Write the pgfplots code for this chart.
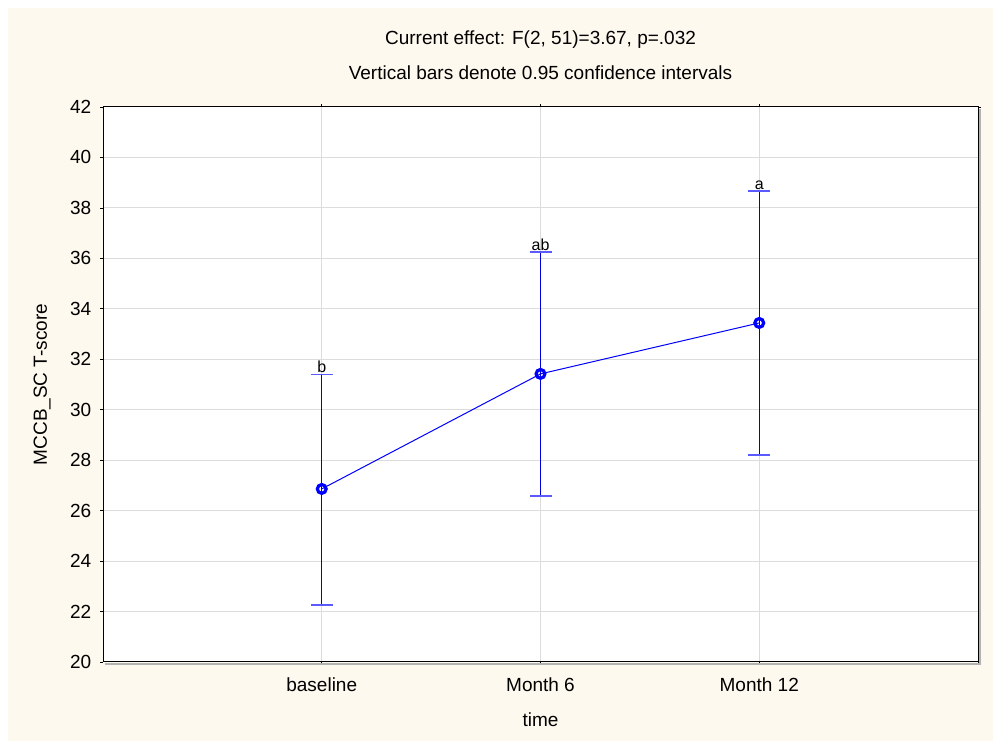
\documentclass[border=0pt]{standalone}
\usepackage{pgfplots}
\pgfplotsset{compat=1.18}
\usepackage{fontspec}
\setmainfont{Liberation Sans}
\definecolor{cream}{RGB}{254,249,238}
\definecolor{gridgray}{RGB}{220,220,220}
\definecolor{capblue}{RGB}{90,90,255}
\definecolor{barblue}{RGB}{0,0,220}
\begin{document}
\fontsize{9.5}{11}\selectfont
\begin{tikzpicture}
\fill[white] (0pt,0pt) rectangle (500.5pt,374.5pt);
\fill[cream] (4pt,4pt) rectangle (496.5pt,370.5pt);
\begin{axis}[
  at={(51.5pt,43.5pt)}, anchor=south west,
  scale only axis, width=437.5pt, height=277.5pt,
  xmin=0, xmax=4, ymin=20, ymax=42,
  xtick={1,2,3}, xticklabels={baseline,Month 6,Month 12},
  ytick={20,22,...,42},
  grid=major, major grid style={gridgray, line width=0.5pt},
  axis background/.style={fill=white},
  axis line style={black, line width=0.5pt},
  tick align=outside, major tick length=1.5pt,
  tick style={black, line width=0.4pt},
  /pgf/number format/assume math mode=true,
  ticklabel style={font=\fontsize{9.5}{11}\selectfont},
  xticklabel style={yshift=-3pt},
  yticklabel style={xshift=-1pt},
  xlabel={time}, ylabel={MCCB\_SC T-score},
  every axis x label/.style={at={(axis description cs:0.5,-0.1045)}, anchor=center, font=\fontsize{9.5}{11}\selectfont},
  every axis y label/.style={at={(axis description cs:-0.0697,0.5)}, anchor=center, rotate=90, font=\fontsize{9.5}{11}\selectfont},
  clip=false,
]
\addplot[blue, line width=0.5pt, mark=o, mark size=2.2pt,
  mark options={line width=1.6pt, fill=white, solid},
  error bars/.cd, y dir=both, y explicit,
  error bar style={draw=barblue, line width=0.7pt},
  error mark=-,
  error mark options={rotate=90, draw=capblue, line width=0.8pt, mark size=5.5pt}]
  table[x=x, y=y, y error plus=ep, y error minus=em] {
x y ep em
1 26.86 4.54 4.60
2 31.42 4.83 4.84
3 33.44 5.23 5.24
};
\addplot[draw=none, mark=none, nodes near coords, point meta=explicit symbolic,
  nodes near coords align={above},
  every node near coord/.style={font=\fontsize{8}{9}\selectfont, black, inner sep=0.5pt}]
  table[x=x, y=y, meta=lab] {
x y lab
1 31.40 b
2 36.25 ab
3 38.68 a
};
\draw[gray!60, line width=1pt] ([xshift=1pt,yshift=-1pt]rel axis cs:0,0) -- ([xshift=1pt,yshift=-1pt]rel axis cs:1,0) -- ([xshift=1pt,yshift=-1pt]rel axis cs:1,1);
\node[font=\fontsize{9.5}{11}\selectfont] at (axis description cs:0.5,1.1207) {Current effect: F(2, 51)=3.67, p=.032};
\node[font=\fontsize{9.5}{11}\selectfont] at (axis description cs:0.5,1.0613) {Vertical bars denote 0.95 confidence intervals};
\end{axis}
\end{tikzpicture}
\end{document}
